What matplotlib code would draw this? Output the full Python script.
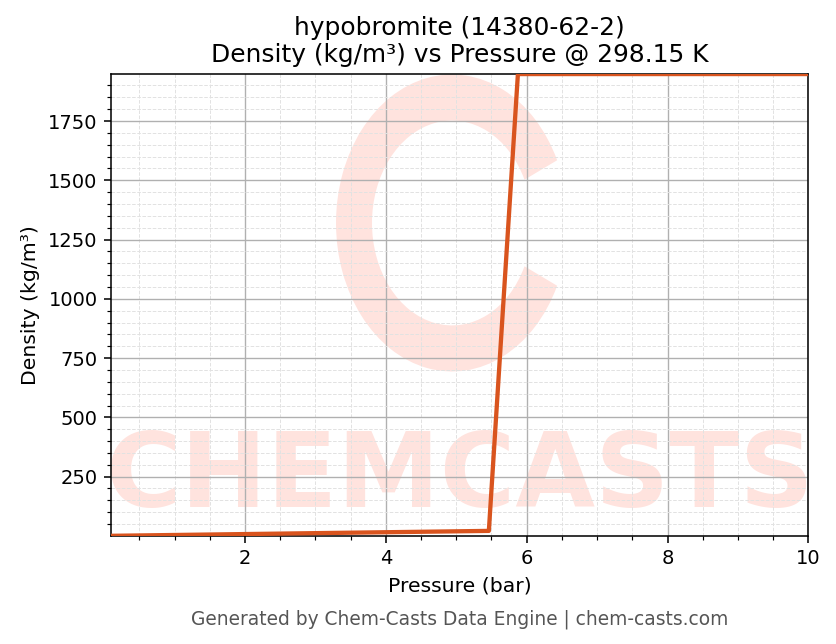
import matplotlib
matplotlib.use("Agg")
import matplotlib.pyplot as plt
from matplotlib.patches import Wedge
from matplotlib.transforms import Affine2D
import matplotlib.ticker as mticker

# pressures (bar) and densities (kg/m3)
pressure = [0.1, 0.5125, 0.925, 1.3375, 1.75, 2.1625, 2.575, 2.9875, 3.4,
            3.8125, 4.225, 4.6375, 5.05, 5.4625, 5.875, 6.2875, 6.7, 7.1125,
            7.525, 7.9375, 8.35, 8.7625, 9.175, 9.5875, 10.0]
density = [0.39, 1.98, 3.58, 5.17, 6.77, 8.37, 9.96, 11.56, 13.15, 14.75,
           16.35, 17.94, 19.54, 21.13, 1948, 1948, 1948, 1948, 1948, 1948,
           1948, 1948, 1948, 1948, 1948]

title = "hypobromite (14380-62-2)\nDensity (kg/m³) vs Pressure @ 298.15 K"
footer = "Generated by Chem-Casts Data Engine | chem-casts.com"

DPI = 140
fig = plt.figure(figsize=(836 / DPI, 644 / DPI), dpi=DPI)
ax = fig.add_axes([0.133, 0.168, 0.834, 0.717])

# watermark
wm = '#ffe3de'
ax.text(0.5, 0.125, "CHEMCASTS", transform=ax.transAxes, ha='center', va='center',
        fontsize=53, fontweight='bold', color=wm, zorder=0, clip_on=True)
logo_tr = Affine2D().scale(1.0, 1.28).translate(452, 644 - 223)
logo = Wedge((0, 0), 116, 25, 335, width=36, transform=logo_tr,
             facecolor=wm, edgecolor='none', zorder=0)
ax.add_patch(logo)

ax.plot(pressure, density, color='#d9541e', linewidth=2.2, zorder=3)

ax.set_xlim(min(pressure), max(pressure))
ax.set_ylim(min(density), max(density))
ax.xaxis.set_major_locator(mticker.MultipleLocator(2))
ax.xaxis.set_minor_locator(mticker.MultipleLocator(0.5))
ax.yaxis.set_major_locator(mticker.MultipleLocator(250))
ax.yaxis.set_minor_locator(mticker.MultipleLocator(50))
ax.grid(which='major', color='#b0b0b0', linewidth=0.7)
ax.grid(which='minor', color='#e2e2e2', linewidth=0.5, linestyle='--')
ax.tick_params(labelsize=10)

ax.set_xlabel("Pressure (bar)", fontsize=10.5)
ax.set_ylabel("Density (kg/m³)", fontsize=10.5)
ax.set_title(title, fontsize=12.8)
fig.text(0.55, 0.038, footer, ha='center', va='center', fontsize=9.6, color='#555555')

fig.savefig("out.png", dpi=DPI)
